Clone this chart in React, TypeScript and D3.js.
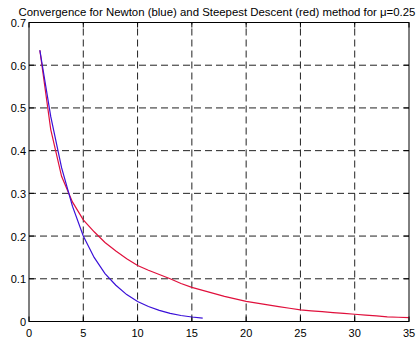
import React from "react";
import * as d3 from "d3";

const title = "Convergence for Newton (blue) and Steepest Descent (red) method for \u03bc=0.25";
const xTicks = [0, 5, 10, 15, 20, 25, 30, 35];
const yTicks = [0, 0.1, 0.2, 0.3, 0.4, 0.5, 0.6, 0.7];
const yTickLabels = ["0", "0.1", "0.2", "0.3", "0.4", "0.5", "0.6", "0.7"];

const newtonX = [1, 2, 3, 4, 5, 6, 7, 8, 9, 10, 11, 12, 13, 14, 15, 16];
const newtonY = [0.635, 0.48, 0.36, 0.27, 0.2, 0.15, 0.112, 0.085, 0.063, 0.047, 0.035, 0.026, 0.019, 0.014, 0.0105, 0.008];

const sdX = [1, 2, 3, 4, 5, 6, 7, 8, 9, 10, 11, 12, 13, 14, 15, 16, 17, 18, 19, 20, 21, 22, 23, 24, 25, 26, 27, 28, 29, 30, 31, 32, 33, 34, 35];
const sdY = [0.635, 0.45, 0.34, 0.28, 0.238, 0.21, 0.185, 0.165, 0.147, 0.131, 0.12, 0.11, 0.1, 0.089, 0.08, 0.073, 0.066, 0.059, 0.053, 0.047, 0.043, 0.039, 0.035, 0.031, 0.027, 0.025, 0.023, 0.021, 0.019, 0.017, 0.015, 0.013, 0.011, 0.01, 0.009];

export default function App() {
  const W = 416, H = 341;
  const left = 29, right = 409, top = 22.5, bottom = 321.5;
  const x = d3.scaleLinear().domain([0, 35]).range([left, right]);
  const y = d3.scaleLinear().domain([0, 0.7]).range([bottom, top]);
  const line = d3.line<[number, number]>().x(d => x(d[0])).y(d => y(d[1]));
  const newton = line(newtonX.map((v, i) => [v, newtonY[i]] as [number, number])) || "";
  const sd = line(sdX.map((v, i) => [v, sdY[i]] as [number, number])) || "";
  const font = "Arial, 'Liberation Sans', sans-serif";
  const tl = 5;
  return (
    <svg width={W} height={H} style={{ position: "absolute", left: 0, top: 0, background: "#fff" }} fontFamily={font}>
      <rect x={0} y={0} width={W} height={H} fill="#fff" />
      {xTicks.slice(1, -1).map(t => (
        <line key={"gx" + t} x1={x(t)} x2={x(t)} y1={bottom} y2={top} stroke="#222" strokeWidth={1} strokeDasharray="7,4" />
      ))}
      {yTicks.slice(1, -1).map(t => (
        <line key={"gy" + t} x1={left} x2={right} y1={y(t)} y2={y(t)} stroke="#222" strokeWidth={1} strokeDasharray="7,4" />
      ))}
      {xTicks.map(t => (
        <g key={"tx" + t}>
          <line x1={x(t)} x2={x(t)} y1={bottom} y2={bottom - tl} stroke="#000" />
          <line x1={x(t)} x2={x(t)} y1={top} y2={top + tl} stroke="#000" />
          <text x={x(t)} y={337} fontSize={11} textAnchor="middle" fill="#000">{t}</text>
        </g>
      ))}
      {yTicks.map((t, i) => (
        <g key={"ty" + t}>
          <line x1={left} x2={left + tl} y1={y(t)} y2={y(t)} stroke="#000" />
          <line x1={right} x2={right - tl} y1={y(t)} y2={y(t)} stroke="#000" />
          <text x={26} y={y(t) + 4.5} fontSize={11} textAnchor="end" fill="#000">{yTickLabels[i]}</text>
        </g>
      ))}
      <path d={sd} fill="none" stroke="#e0103c" strokeWidth={1.2} />
      <path d={newton} fill="none" stroke="#3a10d8" strokeWidth={1.2} />
      <rect x={left} y={top} width={right - left} height={bottom - top} fill="none" stroke="#000" strokeWidth={1} />
      <text x={217} y={15.5} fontSize={11.4} textAnchor="middle" fill="#000">{title}</text>
    </svg>
  );
}
